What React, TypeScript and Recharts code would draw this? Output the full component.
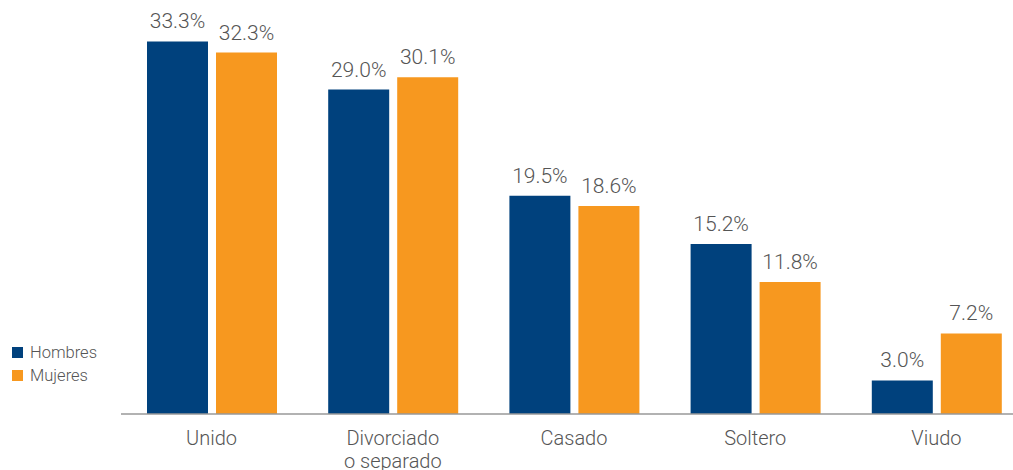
import { BarChart, Bar, XAxis, YAxis, LabelList } from "recharts";

const categories = ["Unido", "Divorciado\no separado", "Casado", "Soltero", "Viudo"];
const hombres = [33.3, 29.0, 19.5, 15.2, 3.0];
const mujeres = [32.3, 30.1, 18.6, 11.8, 7.2];

const data = categories.map((name, i) => ({
  name,
  hombres: hombres[i],
  mujeres: mujeres[i],
}));

const BLUE = "#00417D";
const ORANGE = "#F7981F";
const TEXT = "#555555";
const FONT = "Roboto, sans-serif";

function Tick(props: any) {
  const { x, y, payload } = props;
  const lines = String(payload.value).split("\n");
  return (
    <text
      x={x}
      y={y}
      textAnchor="middle"
      fill={TEXT}
      fontSize={20}
      fontWeight={300}
      fontFamily={FONT}
    >
      {lines.map((l, i) => (
        <tspan key={i} x={x} dy={i === 0 ? "0.71em" : 23}>
          {l}
        </tspan>
      ))}
    </text>
  );
}

function LegendBox() {
  const items = [
    { label: "Hombres", color: BLUE },
    { label: "Mujeres", color: ORANGE },
  ];
  return (
    <div
      style={{
        position: "absolute",
        left: 12,
        top: 341,
        fontFamily: FONT,
        fontWeight: 300,
        fontSize: 16.5,
        color: TEXT,
      }}
    >
      {items.map((it) => (
        <div
          key={it.label}
          style={{ display: "flex", alignItems: "center", height: 23 }}
        >
          <span
            style={{
              width: 11,
              height: 11,
              background: it.color,
              display: "inline-block",
              marginRight: 7,
            }}
          />
          {it.label}
        </div>
      ))}
    </div>
  );
}

const fmt = (v: any) => `${Number(v).toFixed(1)}%`;

export default function App() {
  return (
    <div
      style={{
        position: "absolute",
        left: 0,
        top: 0,
        width: 1013,
        height: 470,
        overflow: "hidden",
        background: "#fff",
      }}
    >
      <BarChart
        width={1027}
        height={470}
        data={data}
        margin={{ top: 0, right: 0, bottom: 0, left: 121 }}
        barGap={8}
      >
        <XAxis
          dataKey="name"
          height={56}
          tickLine={false}
          tickSize={0}
          tickMargin={17}
          interval={0}
          axisLine={{ stroke: "#999999", strokeWidth: 1.5 }}
          tick={<Tick />}
        />
        <YAxis hide domain={[0, 37]} />
        <Bar dataKey="hombres" fill={BLUE} barSize={61} isAnimationActive={false}>
          <LabelList
            dataKey="hombres"
            position="top"
            offset={13}
            formatter={fmt}
            fill={TEXT}
            fontSize={21}
            fontWeight={300}
            fontFamily={FONT}
          />
        </Bar>
        <Bar dataKey="mujeres" fill={ORANGE} barSize={61} isAnimationActive={false}>
          <LabelList
            dataKey="mujeres"
            position="top"
            offset={13}
            formatter={fmt}
            fill={TEXT}
            fontSize={21}
            fontWeight={300}
            fontFamily={FONT}
          />
        </Bar>
      </BarChart>
      <LegendBox />
    </div>
  );
}
